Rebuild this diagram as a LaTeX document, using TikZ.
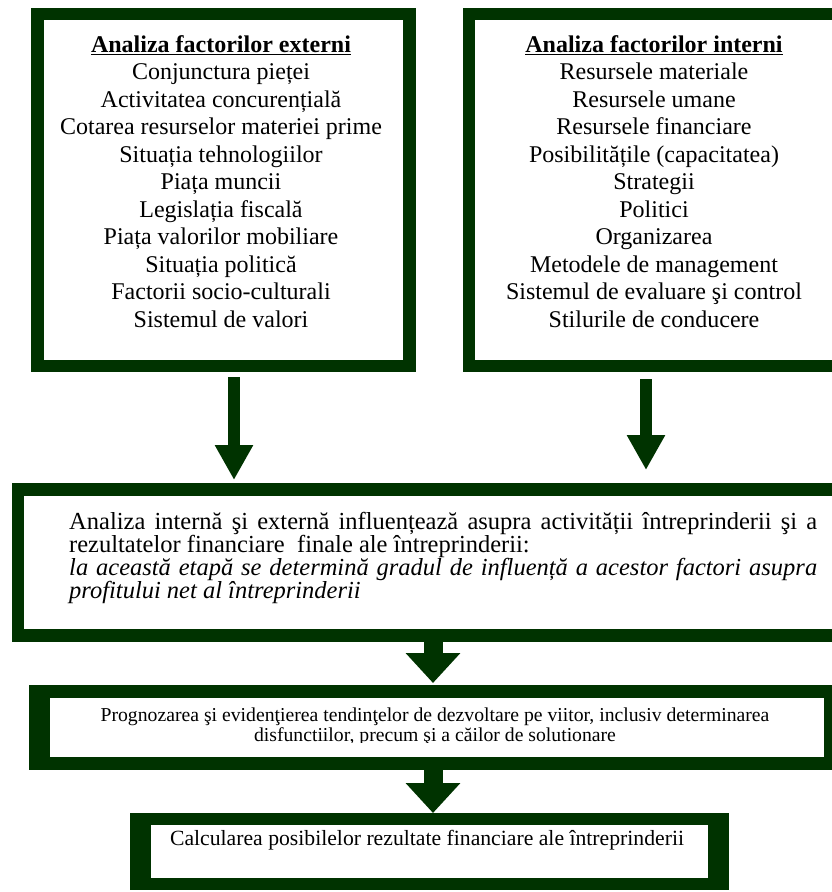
\documentclass[tikz,border=0pt]{standalone}
\usepackage{fontspec}
\setmainfont{Liberation Serif}
\usetikzlibrary{arrows.meta}
\definecolor{framegreen}{RGB}{0,51,0}
\begin{document}
\begin{tikzpicture}[x=1pt,y=-1pt,
  outerbox/.style={fill=framegreen,inner sep=0pt,outer sep=0pt,draw=none},
  innerbox/.style={fill=white,inner sep=0pt,outer sep=0pt,draw=none},
  listtext/.style={align=center,inner sep=0pt,font=\fontsize{24}{27.5}\selectfont},
  toparrow/.style={framegreen,line width=12pt,-{Triangle[length=35pt,width=36pt]}},
  lowarrow/.style={framegreen,line width=19pt,-{Triangle[length=30pt,width=53pt]}},
]
\useasboundingbox (0,0) rectangle (832,892);
\clip (0,0) rectangle (832,892);

% external factors
\node[outerbox,minimum width=385pt,minimum height=364pt] (ext) at (223.5,190) {};
\node[innerbox,minimum width=359pt,minimum height=340pt] (extin) at (ext.center) {};
\node[listtext,anchor=north] (exttext) at (221,35) {%
  \underline{\textbf{Analiza factorilor externi}}\\
  Conjunctura pieței\\
  Activitatea concurențială\\
  Cotarea resurselor materiei prime\\
  Situația tehnologiilor\\
  Piața muncii\\
  Legislația fiscală\\
  Piața valorilor mobiliare\\
  Situația politică\\
  Factorii socio-culturali\\
  Sistemul de valori};

% internal factors
\node[outerbox,minimum width=382pt,minimum height=364pt] (int) at (654,190) {};
\node[innerbox,minimum width=358pt,minimum height=340pt] (intin) at (int.center) {};
\node[listtext,anchor=north] (inttext) at (654,35) {%
  \underline{\textbf{Analiza factorilor interni}}\\
  Resursele materiale\\
  Resursele umane\\
  Resursele financiare\\
  Posibilitățile (capacitatea)\\
  Strategii\\
  Politici\\
  Organizarea\\
  Metodele de management\\
  Sistemul de evaluare şi control\\
  Stilurile de conducere};

% combined influence
\node[outerbox,minimum width=833pt,minimum height=159pt] (mid) at (428.5,562.5) {};
\node[innerbox,minimum width=809pt,minimum height=133pt] (midin) at (mid.center) {};
\node[inner sep=0pt,anchor=north west,text width=748pt,align=justify,
      font=\fontsize{24.5}{23}\selectfont] (midtext) at (69,512) {%
  Analiza internă şi externă influențează asupra activității întreprinderii şi a\linebreak
  rezultatelor financiare\ \ finale ale întreprinderii:\\
  \textit{la această etapă se determină gradul de influență a acestor factori asupra\linebreak
  profitului net al întreprinderii}};

% forecasting
\node[outerbox,minimum width=816pt,minimum height=85pt] (prog) at (437,727.5) {};
\node[innerbox,minimum width=774pt,minimum height=59pt] (progin) at (prog.center) {};
\begin{scope}
  \clip (50,698) rectangle (845,742);
  \node[align=center,inner sep=0pt,font=\fontsize{19.7}{20}\selectfont] (progtext) at (435,727) {%
    Prognozarea şi evidenţierea tendinţelor de dezvoltare pe viitor, inclusiv determinarea\\
    disfunctiilor, precum şi a căilor de solutionare};
\end{scope}

% final results
\node[outerbox,minimum width=599pt,minimum height=77pt] (calc) at (429.5,851.5) {};
\node[innerbox,minimum width=557pt,minimum height=53pt] (calcin) at (calc.center) {};
\node[inner sep=0pt,font=\fontsize{21.7}{24}\selectfont] (calctext) at (427,840) {%
  Calcularea posibilelor rezultate financiare ale întreprinderii};

% connectors
\draw[toparrow] ([shift={(10.5,5)}]ext.south) -- ([yshift=3pt]mid.north -| 234,0);
\draw[toparrow] ([shift={(-8,7)}]int.south) -- ([yshift=13pt]mid.north -| 646,0);
\draw[lowarrow] (mid.south -| 433,0) -- ([yshift=2pt]prog.north -| 433,0);
\draw[lowarrow] (prog.south -| 433,0) -- (calc.north -| 433,0);
\end{tikzpicture}
\end{document}
